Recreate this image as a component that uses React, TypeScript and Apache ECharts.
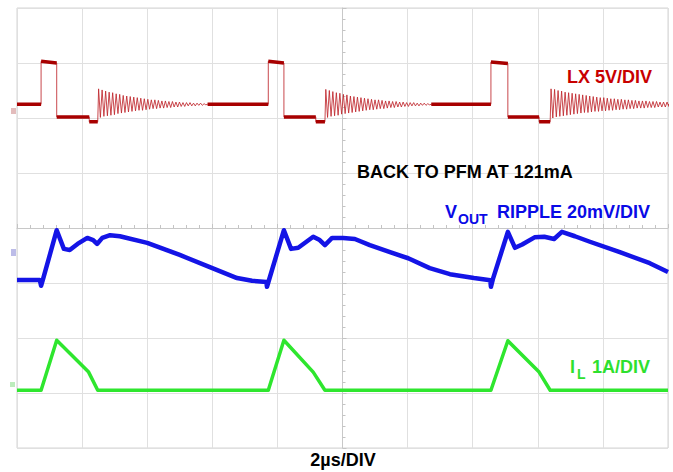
import React, { useEffect, useRef } from "react";
import * as echarts from "echarts";

// All x values in horizontal divisions (2µs/DIV), centre of screen = 0; y values in vertical divisions, centre = 0.
const X_MIN = -5;
const X_MAX = 5;
const Y_MIN = -4;
const Y_MAX = 4;

// ---- LX (switch node) trace ----
const lxBase = 2.25;
const lxLow = 2.02;
const lxDip = 1.93;
const lxHighStart = [3.03, 3.03, 3.02];
const lxHighEnd = [3.0, 3.0, 2.99];
const lxRise = [-4.63, -1.14, 2.28];
const lxFall = [-4.39, -0.9, 2.54];
const lxLowEnd = [-3.89, -0.41, 3.02];
const lxDipEnd = [-3.76, -0.27, 3.19];
const lxRingStep = 0.027; // sample interval of the ring-down values below
const lxRing1 = [2.53, 2.01, 2.51, 2.03, 2.49, 2.04, 2.47, 2.05, 2.46, 2.06, 2.44, 2.08, 2.43, 2.09, 2.41, 2.1, 2.4, 2.11, 2.39, 2.12, 2.38, 2.13, 2.37, 2.14, 2.36, 2.14, 2.35, 2.15, 2.34, 2.16, 2.33, 2.17, 2.33, 2.17, 2.32, 2.18, 2.31, 2.18, 2.31, 2.19, 2.3, 2.19, 2.3, 2.2, 2.29, 2.2, 2.29, 2.21, 2.28, 2.21, 2.28, 2.22, 2.28, 2.22, 2.27, 2.22, 2.27, 2.23, 2.27, 2.23, 2.26, 2.24];
const lxRing2 = [2.52, 2.01, 2.5, 2.03, 2.48, 2.04, 2.46, 2.05, 2.45, 2.07, 2.43, 2.08, 2.42, 2.09, 2.4, 2.1, 2.39, 2.11, 2.38, 2.12, 2.37, 2.13, 2.36, 2.14, 2.35, 2.15, 2.34, 2.15, 2.33, 2.16, 2.33, 2.17, 2.32, 2.17, 2.31, 2.18, 2.31, 2.19, 2.3, 2.19, 2.3, 2.2, 2.29, 2.2, 2.29, 2.21, 2.28, 2.21, 2.28, 2.22, 2.28, 2.22, 2.27, 2.22, 2.27, 2.23, 2.27, 2.23, 2.26, 2.24];
const lxRing3 = [2.53, 2.0, 2.52, 2.02, 2.5, 2.03, 2.49, 2.04, 2.47, 2.05, 2.46, 2.06, 2.45, 2.07, 2.44, 2.08, 2.43, 2.09, 2.42, 2.1, 2.41, 2.1, 2.4, 2.11, 2.39, 2.12, 2.38, 2.12, 2.37, 2.13, 2.37, 2.13, 2.36, 2.14, 2.35, 2.14, 2.35, 2.15, 2.34, 2.15, 2.34, 2.16, 2.33, 2.16, 2.33, 2.17, 2.32, 2.17, 2.32, 2.18, 2.31, 2.18, 2.31, 2.18, 2.31, 2.19, 2.3, 2.19, 2.3, 2.19, 2.3, 2.2, 2.29, 2.2, 2.29, 2.2, 2.29, 2.21, 2.28, 2.21];
const lxRings = [lxRing1, lxRing2, lxRing3];

// ---- VOUT ripple trace ----
const voutX = [-5.0, -4.65, -4.63, -4.6, -4.39, -4.28, -4.19, -4.07, -3.92, -3.83, -3.77, -3.69, -3.57, -3.42, -3.0, -2.5, -2.0, -1.62, -1.39, -1.17, -1.16, -1.13, -0.9, -0.79, -0.68, -0.45, -0.35, -0.27, -0.16, 0.01, 0.19, 0.42, 0.73, 1.01, 1.34, 1.65, 2.02, 2.27, 2.28, 2.31, 2.54, 2.65, 2.76, 2.95, 3.1, 3.25, 3.37, 3.57, 3.8, 4.26, 4.72, 5.0];
const voutY = [-0.945, -0.945, -1.05, -0.93, -0.04, -0.38, -0.4, -0.29, -0.18, -0.22, -0.29, -0.18, -0.13, -0.15, -0.27, -0.49, -0.73, -0.91, -0.96, -0.98, -1.07, -0.95, -0.04, -0.38, -0.36, -0.16, -0.22, -0.31, -0.18, -0.18, -0.2, -0.31, -0.44, -0.55, -0.73, -0.84, -0.91, -0.95, -1.07, -0.93, -0.07, -0.36, -0.3, -0.17, -0.16, -0.2, -0.07, -0.15, -0.25, -0.44, -0.64, -0.8];

// ---- Inductor current trace ----
const ilX = [-5.0, -4.63, -4.39, -3.9, -3.76, -1.14, -0.9, -0.45, -0.27, 2.28, 2.54, 3.02, 3.19, 5.0];
const ilY = [-2.95, -2.95, -2.04, -2.62, -2.95, -2.95, -2.04, -2.62, -2.95, -2.95, -2.05, -2.62, -2.95, -2.95];

// ---- Labels ----
const lxLabel = "LX 5V/DIV";
const noteLabel = "BACK TO PFM AT 121mA";
const voutMain = "V";
const voutSub = "OUT";
const voutRest = "RIPPLE 20mV/DIV";
const ilMain = "I";
const ilSub = "L";
const ilRest = "1A/DIV";
const timeLabel = "2µs/DIV";

const FONT = '"Liberation Sans", Arial, Helvetica, sans-serif';

function buildLx() {
  const thin: any[] = [[X_MIN, lxBase]];
  const thick: any[] = [];
  for (let i = 0; i < lxRise.length; i++) {
    const startBase = i === 0 ? X_MIN : lxDipEnd[i - 1] + (lxRings[i - 1].length + 0.5) * lxRingStep;
    if (startBase < lxRise[i]) {
      thick.push([startBase, lxBase], [lxRise[i], lxBase], [lxRise[i], "-"]);
    }
    thin.push([lxRise[i], lxBase], [lxRise[i], lxHighStart[i]], [lxFall[i], lxHighEnd[i]]);
    thin.push([lxFall[i], lxLow], [lxLowEnd[i], lxLow], [lxLowEnd[i], lxDip], [lxDipEnd[i], lxDip]);
    thick.push([lxRise[i], lxHighStart[i]], [lxFall[i], lxHighEnd[i]], [lxFall[i], "-"]);
    thick.push([lxFall[i], lxLow], [lxLowEnd[i], lxLow], [lxLowEnd[i], "-"]);
    thick.push([lxLowEnd[i], lxDip], [lxDipEnd[i], lxDip], [lxDipEnd[i], "-"]);
    const ring = lxRings[i];
    for (let k = 0; k < ring.length; k++) {
      thin.push([lxDipEnd[i] + (k + 0.5) * lxRingStep, ring[k]]);
    }
    const ringEnd = lxDipEnd[i] + (ring.length + 0.5) * lxRingStep;
    const next = i + 1 < lxRise.length ? lxRise[i + 1] : X_MAX;
    if (ringEnd < next) thin.push([ringEnd, lxBase]);
  }
  thin.push([X_MAX, lxBase]);
  return { thin, thick };
}

export default function App() {
  const ref = useRef<HTMLDivElement>(null);
  useEffect(() => {
    if (!ref.current) return;
    const chart = echarts.init(ref.current, undefined, { renderer: "svg" });
    const lx = buildLx();
    const vout = voutX.map((x, i) => [x, voutY[i]]);
    const il = ilX.map((x, i) => [x, ilY[i]]);
    const gridCol = "#e0e0e0";
    const txt = (x: number, y: number, text: string, size: number, color: string, align = "left") => ({
      type: "text",
      x,
      y,
      silent: true,
      z: 100,
      style: {
        text,
        fill: color,
        font: `bold ${size}px ${FONT}`,
        textAlign: align,
        textVerticalAlign: "middle",
        align,
        verticalAlign: "middle",
      },
    });
    chart.setOption({
      animation: false,
      backgroundColor: "#ffffff",
      grid: { left: 17, right: 5, top: 8, bottom: 24, show: true, borderColor: "#d4d4d4", borderWidth: 1, backgroundColor: "transparent" },
      xAxis: {
        type: "value",
        min: X_MIN,
        max: X_MAX,
        interval: 1,
        axisLine: { show: true, onZero: true, lineStyle: { color: "#c8c8c8", width: 1 } },
        axisTick: { show: true, inside: true, length: 4, lineStyle: { color: "#c4c4c4" } },
        minorTick: { show: true, splitNumber: 5, length: 3, lineStyle: { color: "#c4c4c4" } },
        axisLabel: { show: false },
        splitLine: { show: true, lineStyle: { color: gridCol, width: 1 } },
      },
      yAxis: {
        type: "value",
        min: Y_MIN,
        max: Y_MAX,
        interval: 1,
        axisLine: { show: true, onZero: true, lineStyle: { color: "#c8c8c8", width: 1 } },
        axisTick: { show: true, inside: true, length: 4, lineStyle: { color: "#c4c4c4" } },
        minorTick: { show: true, splitNumber: 5, length: 3, lineStyle: { color: "#c4c4c4" } },
        axisLabel: { show: false },
        splitLine: { show: true, lineStyle: { color: gridCol, width: 1 } },
      },
      series: [
        {
          name: "LX",
          type: "line",
          data: lx.thin,
          symbol: "none",
          clip: true,
          lineStyle: { color: "#c0282e", width: 1, opacity: 0.85 },
          z: 3,
        },
        {
          name: "LX level",
          type: "line",
          data: lx.thick,
          symbol: "none",
          connectNulls: false,
          clip: true,
          lineStyle: { color: "#a80000", width: 3.5 },
          z: 4,
        },
        {
          name: "VOUT",
          type: "line",
          data: vout,
          symbol: "none",
          clip: true,
          lineStyle: { color: "#1414e6", width: 4.5, join: "round" },
          z: 5,
        },
        {
          name: "IL",
          type: "line",
          data: il,
          symbol: "none",
          clip: true,
          lineStyle: { color: "#2ee62e", width: 3.5, join: "round" },
          z: 5,
        },
      ],
      graphic: [
        txt(567, 77, lxLabel, 18, "#c80000"),
        txt(357, 172, noteLabel, 18, "#000000"),
        txt(445, 212, voutMain, 18, "#0a0ae6"),
        txt(458, 219, voutSub, 14, "#0a0ae6"),
        txt(497, 212, voutRest, 18, "#0a0ae6"),
        txt(570, 367, ilMain, 18, "#2ee02e"),
        txt(577, 374, ilSub, 14, "#2ee02e"),
        txt(592, 367, ilRest, 18, "#2ee02e"),
        txt(343, 460, timeLabel, 18, "#000000", "center"),
        { type: "rect", shape: { x: 11, y: 108, width: 5, height: 6 }, style: { fill: "#d09090", opacity: 0.6 }, silent: true },
        { type: "rect", shape: { x: 11, y: 249, width: 5, height: 7 }, style: { fill: "#9090d8", opacity: 0.6 }, silent: true },
        { type: "rect", shape: { x: 10, y: 382, width: 5, height: 5 }, style: { fill: "#90e090", opacity: 0.6 }, silent: true },
      ],
    });
    return () => chart.dispose();
  }, []);
  return <div ref={ref} style={{ position: "absolute", left: 0, top: 0, width: 673, height: 472 }} />;
}
